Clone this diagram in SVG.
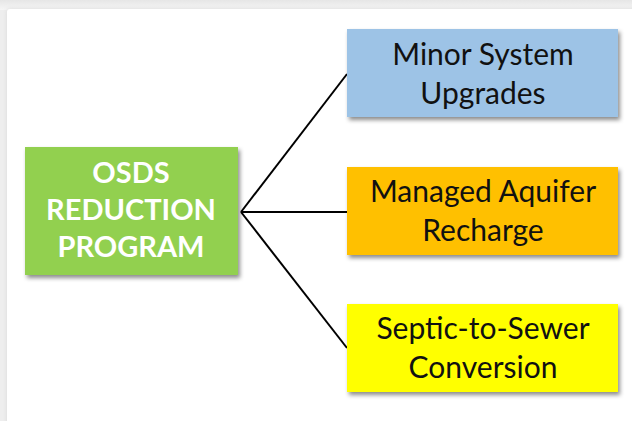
<svg xmlns="http://www.w3.org/2000/svg" width="632" height="421" viewBox="0 0 632 421">
  <defs>
    <linearGradient id="topBand" x1="0" y1="0" x2="0" y2="1">
      <stop offset="0" stop-color="#e6e6e6"/>
      <stop offset="1" stop-color="#f6f6f6"/>
    </linearGradient>
    <filter id="shadow" x="-10%" y="-10%" width="125%" height="130%">
      <feDropShadow dx="2" dy="3" stdDeviation="2" flood-color="#000" flood-opacity="0.45"/>
    </filter>
    <filter id="pageShadow" x="-5%" y="-5%" width="110%" height="110%">
      <feGaussianBlur stdDeviation="2"/>
    </filter>
  </defs>
  <style>
    .box { stroke: none; filter: url(#shadow); }
    .main { font-family: Lato, "Liberation Sans", sans-serif; font-weight: bold; font-size: 29px; fill: #ffffff; text-anchor: middle; }
    .label { font-family: Lato, "Liberation Sans", sans-serif; font-size: 30px; fill: #111111; text-anchor: middle; }
    .link { stroke: #000000; stroke-width: 2; fill: none; }
  </style>

  <!-- page frame -->
  <rect x="0" y="0" width="632" height="421" fill="#eeeeee"/>
  <rect x="0" y="0" width="632" height="10" fill="url(#topBand)"/>
  <rect x="7" y="9" width="630" height="420" rx="3" fill="#d8d8d8" filter="url(#pageShadow)"/>
  <rect x="7" y="9" width="630" height="420" rx="3" fill="#ffffff"/>

  <!-- connectors -->
  <g id="connectors">
    <line class="link" x1="241" y1="212" x2="347" y2="74"/>
    <line class="link" x1="241" y1="212" x2="347" y2="212"/>
    <line class="link" x1="241" y1="212" x2="347" y2="348"/>
  </g>

  <g id="osds-program">
    <rect class="box" x="25" y="147" width="213" height="128" fill="#92d050"/>
    <text class="main" x="131" y="183">OSDS</text>
    <text class="main" x="131" y="220">REDUCTION</text>
    <text class="main" x="131" y="257">PROGRAM</text>
  </g>

  <g id="minor-upgrades">
    <rect class="box" x="347" y="29" width="271" height="88" fill="#9dc3e6"/>
    <text class="label" x="483" y="65">Minor System</text>
    <text class="label" x="483" y="104">Upgrades</text>
  </g>

  <g id="aquifer-recharge">
    <rect class="box" x="347" y="167" width="271" height="88" fill="#ffc000"/>
    <text class="label" x="483" y="202">Managed Aquifer</text>
    <text class="label" x="483" y="241">Recharge</text>
  </g>

  <g id="septic-sewer">
    <rect class="box" x="347" y="304" width="271" height="88" fill="#ffff00"/>
    <text class="label" x="483" y="339">Septic-to-Sewer</text>
    <text class="label" x="483" y="378">Conversion</text>
  </g>
</svg>
